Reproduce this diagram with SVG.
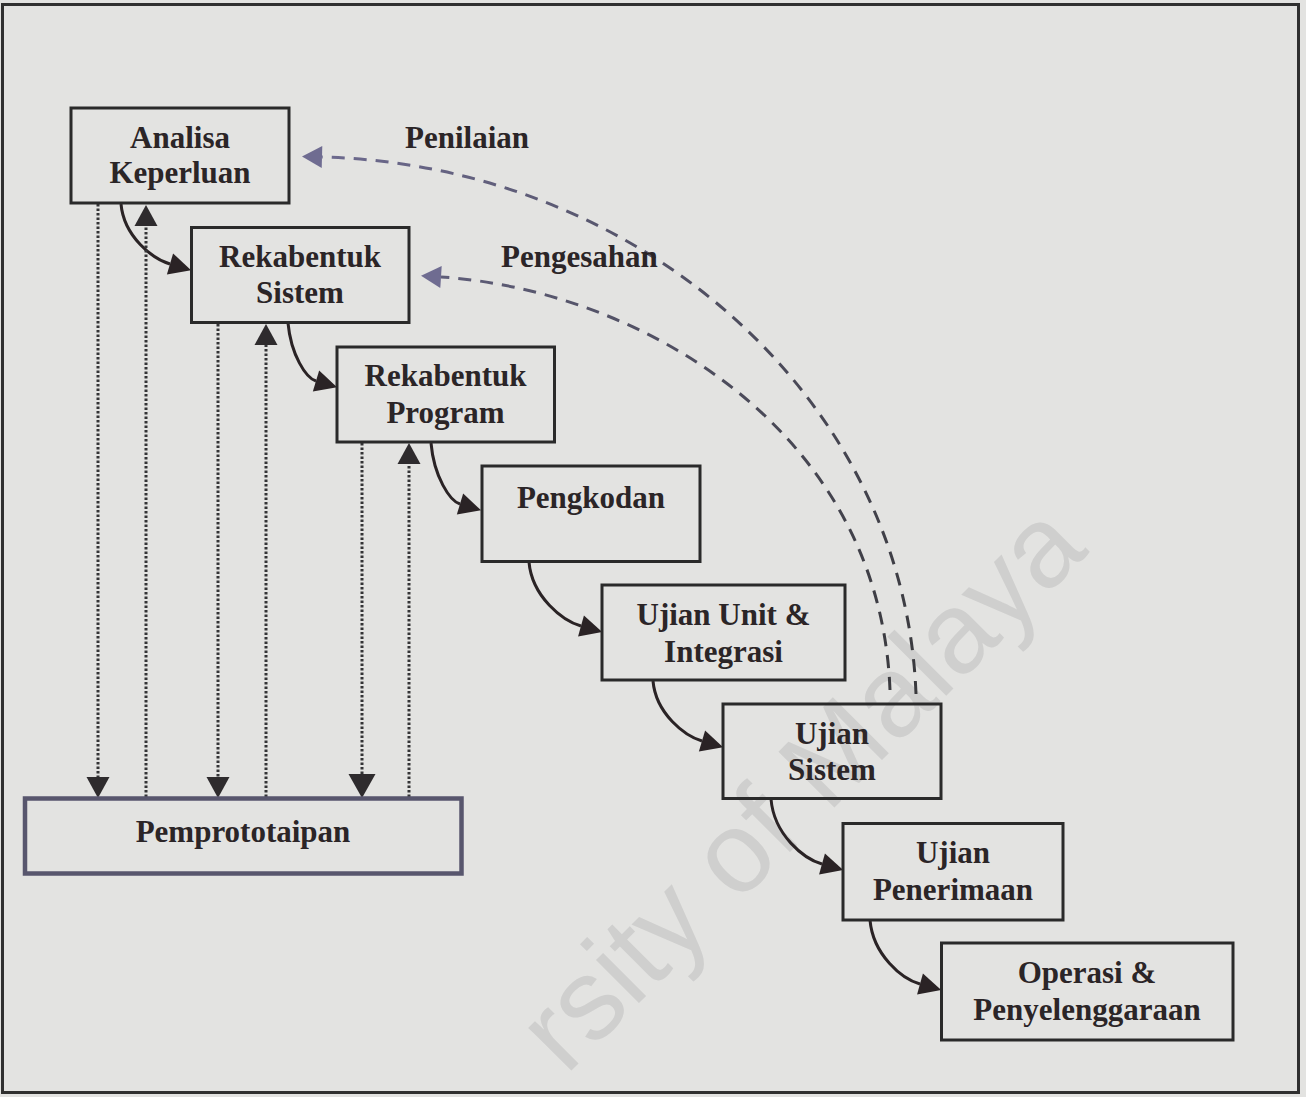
<svg xmlns="http://www.w3.org/2000/svg" width="1306" height="1097" viewBox="0 0 1306 1097">
  <defs>
    <style>
      .box { fill: none; stroke: #2a2a2a; stroke-width: 3; }
      .proto { fill: none; stroke: #58566d; stroke-width: 4.5; }
      .lbl { font-family: "Liberation Serif", "Times New Roman", serif; font-weight: bold; font-size: 31px; fill: #2b2527; text-anchor: middle; }
      .tag { font-family: "Liberation Serif", "Times New Roman", serif; font-weight: bold; font-size: 31px; fill: #2b2527; }
      .flow { fill: none; stroke: #2a2325; stroke-width: 3; marker-end: url(#head); }
      .dot { fill: none; stroke: #343436; stroke-width: 3; stroke-dasharray: 2.5 2; }
      .dash { fill: none; stroke: url(#dashInk); stroke-width: 3; stroke-dasharray: 13 9; marker-end: url(#vhead); }
      .wm { font-family: "Liberation Sans", Arial, sans-serif; font-size: 115px; fill: #cfcfce; text-anchor: end; }
    </style>
    <linearGradient id="dashInk" gradientUnits="userSpaceOnUse" x1="320" y1="160" x2="900" y2="690">
      <stop offset="0" stop-color="#6d6a8e"/>
      <stop offset="0.35" stop-color="#56556b"/>
      <stop offset="1" stop-color="#3a3a3e"/>
    </linearGradient>
    <!-- solid flow arrowhead -->
    <marker id="head" markerUnits="userSpaceOnUse" markerWidth="24" markerHeight="24" refX="0" refY="11" orient="auto" overflow="visible">
      <path d="M0,0 L22,11 L0,22 z" fill="#2a2325"/>
    </marker>
    <!-- arrowheads for the dotted prototype links -->
    <marker id="dhead" markerUnits="userSpaceOnUse" markerWidth="24" markerHeight="24" refX="0" refY="11.5" orient="auto" overflow="visible">
      <path d="M0,0 L21,11.5 L0,23 z" fill="#2e2b2d"/>
    </marker>
    <marker id="dheadL" markerUnits="userSpaceOnUse" markerWidth="28" markerHeight="28" refX="0" refY="13.5" orient="auto" overflow="visible">
      <path d="M0,0 L24,13.5 L0,27 z" fill="#2e2b2d"/>
    </marker>
    <!-- feedback arrowhead -->
    <marker id="vhead" markerUnits="userSpaceOnUse" markerWidth="24" markerHeight="24" refX="0" refY="11" orient="auto" overflow="visible">
      <path d="M0,0 L20,11 L0,22 z" fill="#6f6c91"/>
    </marker>
  </defs>

  <!-- paper -->
  <rect x="0" y="0" width="1306" height="1097" fill="#e3e3e1"/>

  <!-- watermark -->
  <text class="wm" transform="translate(1090,552) rotate(-45)">rsity of Malaya</text>

  <!-- outer frame -->
  <rect x="2.5" y="4.5" width="1296" height="1088" fill="none" stroke="#303030" stroke-width="3"/>

  <g id="connectors">
    <!-- forward flow between phases -->
    <path class="flow" d="M121,204 C124,237 153,259 170,264"/>
    <path class="flow" d="M288,323 C291,355 306,378 316,381"/>
    <path class="flow" d="M431,443 C434,477 450,501 460,504"/>
    <path class="flow" d="M529,562 C532,597 563,621 581,626"/>
    <path class="flow" d="M653,681 C656,714 685,736 702,741"/>
    <path class="flow" d="M771,799 C774,835 804,859 822,864"/>
    <path class="flow" d="M870,920 C873,955 902,979 920,984"/>

    <!-- prototype links: down to Pemprototaipan -->
    <path class="dot" d="M98,204 V777" marker-end="url(#dhead)"/>
    <path class="dot" d="M218,324 V777" marker-end="url(#dhead)"/>
    <path class="dot" d="M362,443 V774" stroke-width="3.8" marker-end="url(#dheadL)"/>
    <!-- prototype links: back up to the phases -->
    <path class="dot" d="M146,797 V226" marker-end="url(#dhead)"/>
    <path class="dot" d="M266,797 V345" marker-end="url(#dhead)"/>
    <path class="dot" d="M409,797 V464" marker-end="url(#dhead)"/>

    <!-- feedback loops -->
    <path class="dash" d="M916,694 C905,400 640,165 322,157"/>
    <path class="dash" d="M890,690 C880,430 640,290 441,277"/>
    <text class="tag" x="405" y="148">Penilaian</text>
    <text class="tag" x="501" y="267">Pengesahan</text>
  </g>

  <g id="analisa-keperluan">
    <rect class="box" x="71" y="108" width="218" height="95"/>
    <text class="lbl" x="180" y="148">Analisa</text>
    <text class="lbl" x="180" y="183">Keperluan</text>
  </g>

  <g id="rekabentuk-sistem">
    <rect class="box" x="191.5" y="227.5" width="217.5" height="95"/>
    <text class="lbl" x="300" y="267">Rekabentuk</text>
    <text class="lbl" x="300" y="303">Sistem</text>
  </g>

  <g id="rekabentuk-program">
    <rect class="box" x="337" y="347" width="217.5" height="95"/>
    <text class="lbl" x="445.5" y="386">Rekabentuk</text>
    <text class="lbl" x="445.5" y="423">Program</text>
  </g>

  <g id="pengkodan">
    <rect class="box" x="482" y="466" width="218" height="95.5"/>
    <text class="lbl" x="591" y="508">Pengkodan</text>
  </g>

  <g id="ujian-unit-integrasi">
    <rect class="box" x="602" y="585" width="243" height="95"/>
    <text class="lbl" x="723.5" y="625">Ujian Unit &amp;</text>
    <text class="lbl" x="723.5" y="662">Integrasi</text>
  </g>

  <g id="ujian-sistem">
    <rect class="box" x="723" y="704" width="218" height="94.5"/>
    <text class="lbl" x="832" y="744">Ujian</text>
    <text class="lbl" x="832" y="780">Sistem</text>
  </g>

  <g id="ujian-penerimaan">
    <rect class="box" x="843" y="823.5" width="220" height="96.5"/>
    <text class="lbl" x="953" y="863">Ujian</text>
    <text class="lbl" x="953" y="900">Penerimaan</text>
  </g>

  <g id="operasi-penyelenggaraan">
    <rect class="box" x="941.5" y="943" width="291.5" height="97"/>
    <text class="lbl" x="1087" y="983">Operasi &amp;</text>
    <text class="lbl" x="1087" y="1020">Penyelenggaraan</text>
  </g>

  <g id="pemprototaipan">
    <rect class="proto" x="25" y="798.5" width="436.5" height="75"/>
    <text class="lbl" x="243" y="842">Pemprototaipan</text>
  </g>
</svg>
